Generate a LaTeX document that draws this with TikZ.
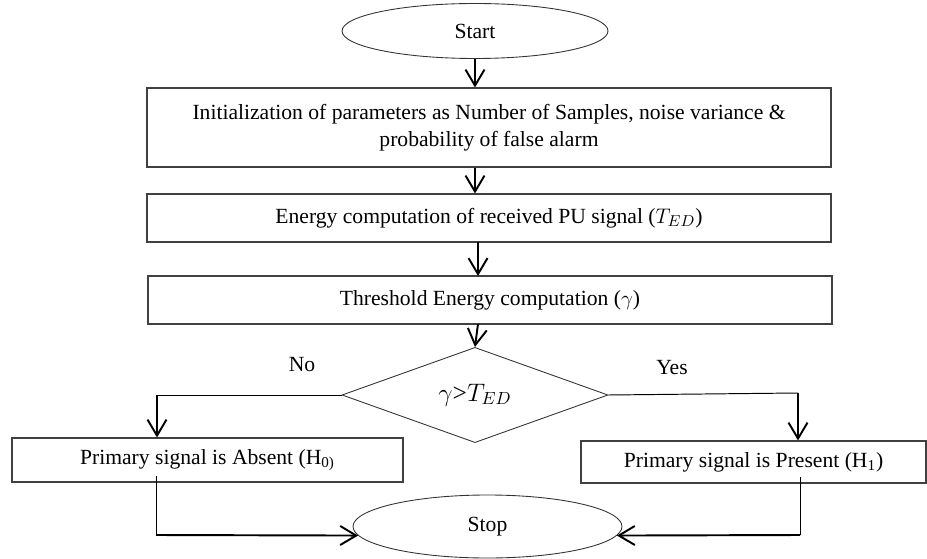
\documentclass[tikz,border=0pt]{standalone}
\usepackage{fontspec}
\setmainfont{Liberation Serif}
\usepackage{tikz}
\usetikzlibrary{arrows.meta,positioning,shapes.geometric}

\begin{document}
\begin{tikzpicture}[
  font=\fontsize{12.3}{15.5}\selectfont,
  proc/.style={draw=black!75, line width=0.6pt, minimum width=13.68cm, align=center, inner sep=0pt},
  term/.style={draw=black!80, line width=0.5pt, ellipse, minimum width=5.32cm, minimum height=1.1cm},
  decision/.style={draw=black!80, line width=0.5pt, diamond, inner sep=0pt, minimum width=5.32cm, minimum height=1.88cm},
  arrow/.style={-{Straight Barb[length=0.32cm,width=0.38cm]}, line width=1.1pt},
  line/.style={line width=0.55pt}
]
\useasboundingbox (0,0) rectangle (18.54,-11.18);
\node[term] (start) at (9.5,-0.62) {Start};
\node[proc, minimum height=1.58cm] (init) at (9.78,-2.55) {Initialization of parameters as Number of Samples, noise variance \&\\probability of false alarm};
\node[proc, minimum height=0.96cm] (energy) at (9.78,-4.36) {Energy computation of received PU signal ($T_{ED}$)};
\node[proc, minimum height=0.96cm] (thresh) at (9.8,-6.0) {Threshold Energy computation ($\gamma$)};
\node[decision] (dec) at (9.5,-7.9) {\fontsize{14.5}{16}\selectfont$\gamma$>$T_{ED}$};
\node[proc, minimum width=7.82cm, minimum height=0.88cm] (h0) at (4.15,-9.2) {Primary signal is Absent (H\textsubscript{0)}};
\node[proc, minimum width=6.9cm, minimum height=0.84cm] (h1) at (15.07,-9.24) {Primary signal is Present (H\textsubscript{1})};
\node[term, minimum width=5.38cm, minimum height=1.26cm] (stop) at (9.75,-10.53) {Stop};
\node (no) at (6.04,-7.3) {No};
\node (yes) at (13.44,-7.36) {Yes};
\coordinate (noturn) at (3.14,-7.9);
\coordinate (yesturn) at (15.96,-7.86);
\coordinate (h0low) at (3.12,-10.7);
\coordinate (h1low) at (16.0,-10.7);
\draw[arrow] (start.south) -- (start.south |- init.north);
\draw[arrow] (start.south |- init.south) -- (start.south |- energy.north);
\draw[arrow] (9.56,-4.84) -- (9.56,-5.52);
\draw[arrow] (9.56,-6.48) -- (dec.north);
\draw[line] (dec.west) -- (noturn);
\draw[arrow] (noturn) -- (noturn |- h0.north);
\draw[line] (dec.east) -- (yesturn);
\draw[arrow] (yesturn) -- (yesturn |- h1.north);
\draw[line] ([yshift=0.14cm]h0low |- h0.south) -- (h0low);
\draw[arrow] (h0low) -- (stop.184);
\draw[line] ([yshift=0.14cm]h1low |- h1.south) -- (h1low);
\draw[arrow] (h1low) -- (stop.356);
\end{tikzpicture}
\end{document}
